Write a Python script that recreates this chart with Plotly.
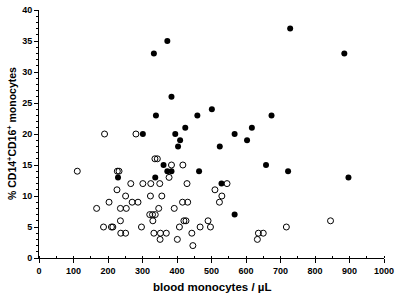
import plotly.graph_objects as go

# Filled circles (group A)
filled_x = [333, 372, 384, 339, 459, 424, 301, 395, 409, 403, 728, 885, 501, 674, 617,
            567, 603, 524, 229, 337, 361, 372, 384, 464, 658, 529, 567, 722, 897]
filled_y = [33, 35, 26, 23, 23, 21, 20, 20, 19, 18, 37, 33, 24, 23, 21,
            20, 19, 18, 13, 13, 15, 14, 14, 14, 15, 12, 7, 14, 13]

# Open circles (group B)
open_x = [111, 227, 232, 266, 301, 324, 350, 336, 343, 226, 251, 323, 203, 270, 287,
          167, 236, 253, 347, 321, 329, 337, 330, 236, 187, 210, 214, 297, 237, 251,
          333, 352, 369, 351, 190, 281, 384, 417, 377, 429, 545, 510, 530, 523, 356,
          416, 431, 392, 420, 426, 490, 407, 467, 497, 443, 636, 650, 633, 401, 446,
          717, 845]
open_y = [14, 14, 14, 12, 12, 12, 12, 16, 16, 11, 10, 10, 9, 9, 9,
          8, 8, 8, 8, 7, 7, 7, 6, 6, 5, 5, 5, 5, 4, 4,
          4, 4, 4, 3, 20, 20, 15, 15, 13, 12, 12, 11, 10, 9, 10,
          9, 9, 8, 6, 6, 6, 5, 5, 5, 4, 4, 4, 3, 3, 2,
          5, 6]

x_ticks = [0, 100, 200, 300, 400, 500, 600, 700, 800, 900, 1000]
y_ticks = [0, 5, 10, 15, 20, 25, 30, 35, 40]

fig = go.Figure()
fig.add_trace(go.Scatter(x=open_x, y=open_y, mode="markers",
                         marker=dict(symbol="circle-open", size=6, color="black",
                                     line=dict(width=1, color="black")),
                         showlegend=False, cliponaxis=False, hoverinfo="skip"))
fig.add_trace(go.Scatter(x=filled_x, y=filled_y, mode="markers",
                         marker=dict(symbol="circle", size=6, color="black"),
                         showlegend=False, cliponaxis=False, hoverinfo="skip"))

font_family = "Liberation Sans, Arial, sans-serif"
fig.update_layout(
    width=400, height=297,
    margin=dict(l=39, r=16, t=10, b=39),
    paper_bgcolor="white", plot_bgcolor="white",
    font=dict(family=font_family, color="black"),
)
fig.update_xaxes(
    range=[0, 1000], tickvals=x_ticks, ticktext=[str(v) for v in x_ticks],
    automargin=False,
    showgrid=False, zeroline=False, showline=True, linecolor="black", linewidth=1,
    ticks="outside", ticklen=4, tickwidth=1, tickcolor="black",
    tickfont=dict(size=9, family=font_family, weight="bold"),
    minor=dict(dtick=50, ticks="inside", ticklen=2, tickcolor="black", showgrid=False),
)
fig.update_yaxes(
    range=[0, 40], tickvals=y_ticks, ticktext=[str(v) for v in y_ticks],
    automargin=False,
    showgrid=False, zeroline=False, showline=True, linecolor="black", linewidth=1,
    ticks="outside", ticklen=4, tickwidth=1, tickcolor="black",
    tickfont=dict(size=9, family=font_family, weight="bold"),
    minor=dict(dtick=1, ticks="outside", ticklen=2, tickcolor="black", showgrid=False),
)
fig.add_annotation(text="blood monocytes / µL", xref="paper", yref="paper",
                   x=0.5, y=0, yshift=-29, xanchor="center", yanchor="middle",
                   showarrow=False, font=dict(size=11.5, family=font_family, weight="bold"))
fig.add_annotation(text="% CD14<sup>+</sup>CD16<sup>+</sup> monocytes", xref="paper", yref="paper",
                   x=0, y=0.5, xshift=-28, xanchor="center", yanchor="middle", textangle=-90,
                   showarrow=False, font=dict(size=10.5, family=font_family, weight="bold"))

fig.write_html("out.html", config={"displayModeBar": False, "staticPlot": True},
               post_script="document.body.style.margin='0';")
